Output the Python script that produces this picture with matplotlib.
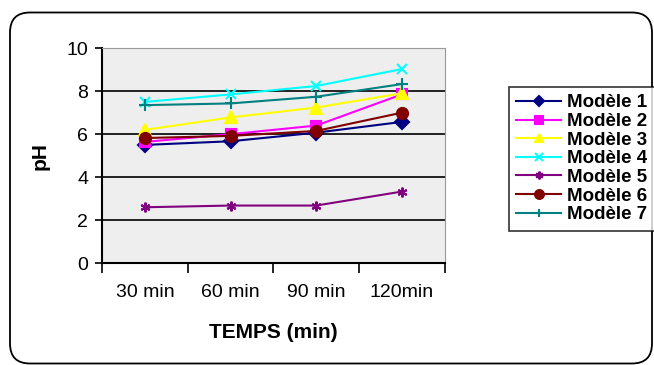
import numpy as np
import matplotlib.pyplot as plt
from matplotlib.patches import FancyBboxPatch

# data
categories = ['30 min', '60 min', '90 min', '120min']
series_names = ['Modèle 1', 'Modèle 2', 'Modèle 3', 'Modèle 4',
                'Modèle 5', 'Modèle 6', 'Modèle 7']
modele_1 = [5.5, 5.67, 6.07, 6.57]
modele_2 = [5.64, 6.0, 6.4, 7.85]
modele_3 = [6.2, 6.78, 7.24, 7.9]
modele_4 = [7.5, 7.85, 8.24, 9.03]
modele_5 = [2.6, 2.68, 2.68, 3.33]
modele_6 = [5.82, 5.92, 6.15, 7.0]
modele_7 = [7.35, 7.43, 7.74, 8.33]

plt.rcParams['font.family'] = ['Liberation Sans', 'DejaVu Sans']

fig = plt.figure(figsize=(6.54, 3.65), dpi=100)
ax = fig.add_axes([0.156, 0.279, 0.524, 0.589])

colors = ['#000080', '#FF00FF', '#FFFF00', '#00FFFF', '#800080', '#800000', '#008080']
markers = ['D', 's', '^', 'x', (6, 2, 0), 'o', '+']
msizes = [7, 7, 8, 7, 7, 8, 8]
all_series = [modele_1, modele_2, modele_3, modele_4, modele_5, modele_6, modele_7]

x = np.arange(len(categories)) + 0.5
for vals, name, c, m, ms in zip(all_series, series_names, colors, markers, msizes):
    ax.plot(x, vals, color=c, marker=m, markersize=ms, lw=1.5,
            markeredgecolor=c, markerfacecolor=c, markeredgewidth=1.5, label=name)

ax.set_facecolor('#EEEEEE')
ax.set_xlim(0, 4)
ax.set_ylim(0, 10)
ax.set_yticks([0, 2, 4, 6, 8, 10])
ax.yaxis.grid(True, color='black', lw=1.2)
ax.set_axisbelow(True)
ax.set_xticks(np.arange(5))
ax.set_xticklabels([])
ax.set_xticks(x, minor=True)
ax.set_xticklabels(categories, minor=True)
ax.tick_params(axis='x', which='major', direction='out', length=7, width=1.2)
ax.tick_params(axis='x', which='minor', length=0, pad=15, labelsize=14)
ax.tick_params(axis='y', direction='out', length=5, width=1.2, labelsize=14, pad=5)

for s in ['left', 'bottom']:
    ax.spines[s].set_linewidth(1.5)
for s in ['top', 'right']:
    ax.spines[s].set_color('#999999')

ax.set_xlabel('TEMPS (min)', fontsize=15, fontweight='bold', labelpad=16)
ax.set_ylabel('pH', fontsize=15, fontweight='bold', labelpad=12)

leg = fig.legend(loc='upper left', bbox_to_anchor=(0.778, 0.762),
                 prop={'weight': 'bold', 'size': 13.5}, frameon=True, fancybox=False,
                 handlelength=2.4, labelspacing=0.08, borderpad=0.4, handletextpad=0.3,
                 borderaxespad=0, markerscale=0.8)
leg.get_frame().set_edgecolor('black')
leg.get_frame().set_linewidth(1.2)

border = FancyBboxPatch((0.1, 0.015), 6.42, 3.51,
                        boxstyle='round,pad=0,rounding_size=0.2',
                        transform=fig.dpi_scale_trans, fill=False,
                        edgecolor='black', lw=1.3)
fig.patches.append(border)

fig.savefig('out.png', dpi=100)
